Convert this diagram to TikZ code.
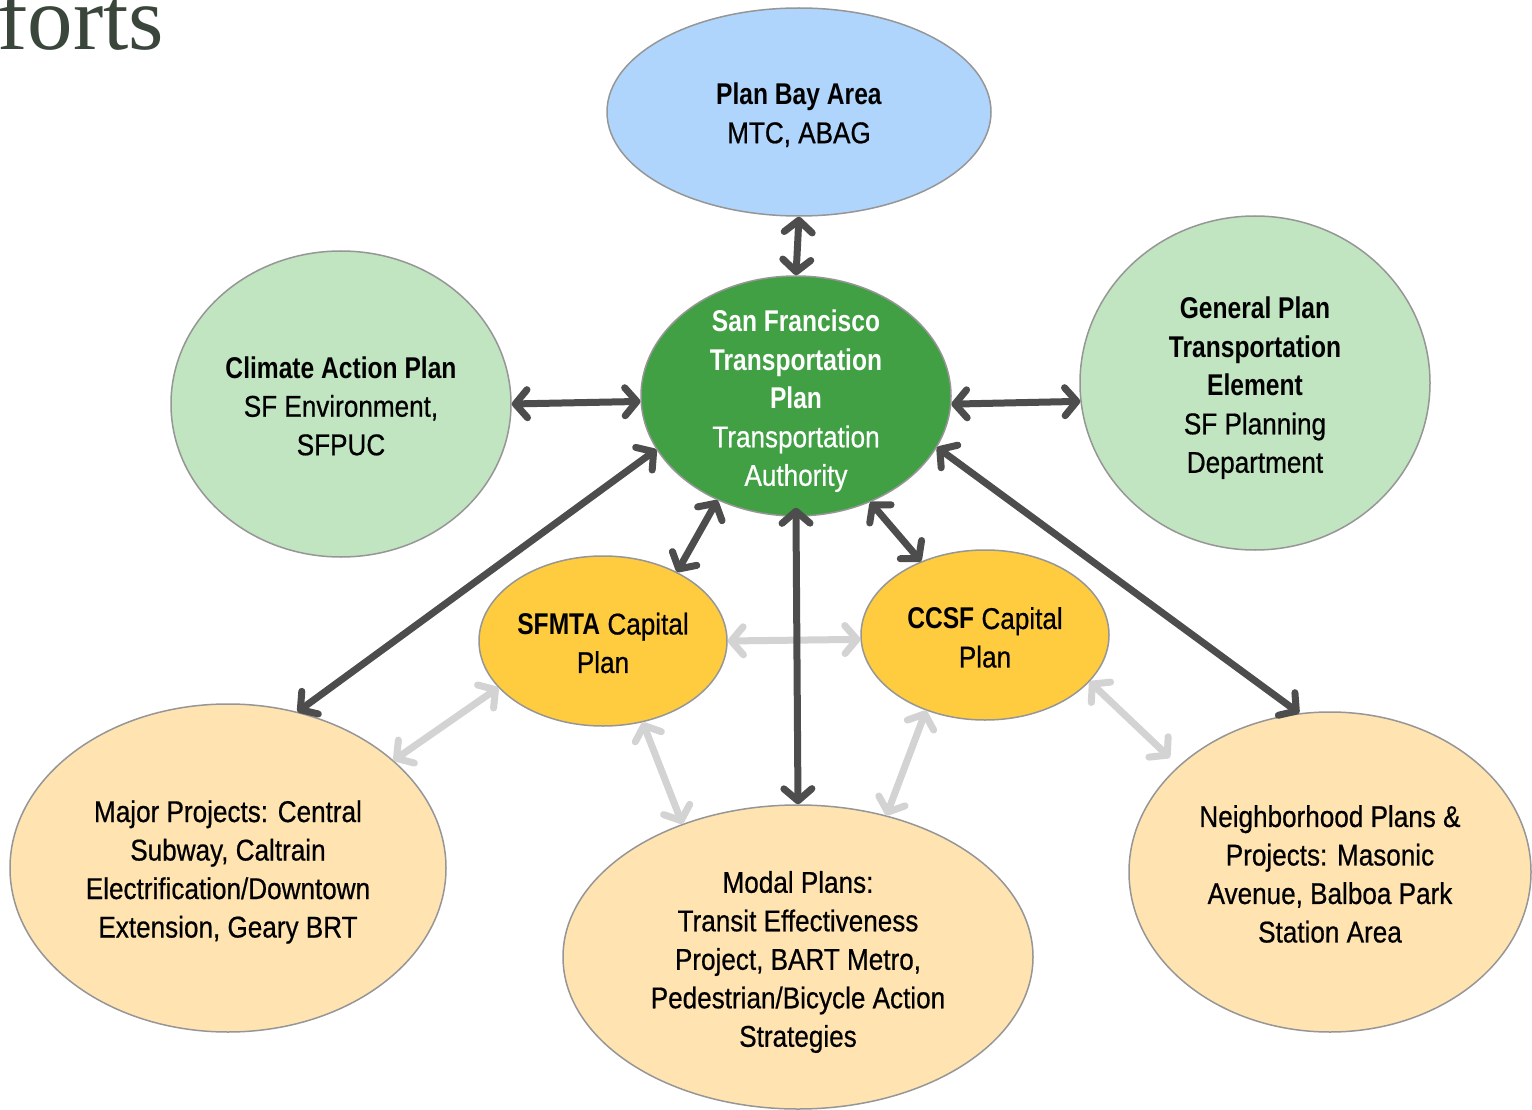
\documentclass[tikz,border=0pt]{standalone}
\usepackage{fontspec}
\setmainfont{Liberation Sans}[UprightFeatures={FakeStretch=0.87,FakeBold=0.6},BoldFeatures={FakeStretch=0.82}]
\newfontfamily\headserif{Liberation Serif}
\usetikzlibrary{shapes.geometric,arrows.meta}
\definecolor{bayblue}{RGB}{175,213,252}
\definecolor{hubgreen}{RGB}{64,160,67}
\definecolor{palegreen}{RGB}{193,228,193}
\definecolor{capyellow}{RGB}{255,204,64}
\definecolor{peach}{RGB}{255,228,178}
\definecolor{edgegray}{RGB}{150,150,150}
\definecolor{darkarrow}{RGB}{77,77,77}
\definecolor{lightarrow}{RGB}{211,211,211}
\definecolor{headcol}{RGB}{58,70,60}
\begin{document}
\begin{tikzpicture}[x=1pt,y=-1pt,
  bub/.style={ellipse, draw=edgegray, line width=1.5pt, inner sep=0pt},
  txt/.style={inner sep=0pt, align=center, font=\fontsize{30}{38.5}\selectfont},
  darr/.style={draw=darkarrow, line width=7pt,
    {Straight Barb[length=12pt,width=28pt,round]}-{Straight Barb[length=12pt,width=28pt,round]}},
  larr/.style={draw=lightarrow, line width=7pt,
    {Straight Barb[length=12pt,width=28pt,round]}-{Straight Barb[length=12pt,width=28pt,round]}}]
\useasboundingbox (0,0) rectangle (1532,1110);
\fill[white] (0,0) rectangle (1532,1110);

\node[anchor=base west, inner sep=0pt, text=headcol, font=\headserif\fontsize{91}{91}\selectfont] (head) at (-3,50) {forts};

\node[bub, fill=bayblue, minimum width=384pt, minimum height=208pt] (pba) at (799,112) {};
\node[bub, fill=hubgreen, minimum width=310pt, minimum height=240pt] (sftp) at (796,396) {};
\node[bub, fill=palegreen, minimum width=340pt, minimum height=306pt] (cap) at (341,404) {};
\node[bub, fill=palegreen, minimum width=350pt, minimum height=334pt] (gp) at (1255,383) {};
\node[bub, fill=capyellow, minimum width=248pt, minimum height=170pt] (mta) at (603,641) {};
\node[bub, fill=capyellow, minimum width=248pt, minimum height=170pt] (ccsf) at (985,635) {};
\node[bub, fill=peach, minimum width=436pt, minimum height=328pt] (major) at (228,868) {};
\node[bub, fill=peach, minimum width=470pt, minimum height=304pt] (modal) at (798,957) {};
\node[bub, fill=peach, minimum width=402pt, minimum height=320pt] (nbr) at (1330,872) {};

\node[txt] (pbaT) at (799,115) {\textbf{Plan Bay Area}\\MTC, ABAG};
\node[txt, text=white] (sftpT) at (796,401)
  {\textbf{San Francisco}\\\textbf{Transportation}\\\textbf{Plan}\\Transportation\\Authority};
\node[txt] (capT) at (341,406) {\textbf{Climate Action Plan}\\SF Environment,\\SFPUC};
\node[txt] (gpT) at (1255,388)
  {\textbf{General Plan}\\\textbf{Transportation}\\\textbf{Element}\\SF Planning\\Department};
\node[txt] (mtaT) at (603,643) {\textbf{SFMTA} Capital\\Plan};
\node[txt] (ccsfT) at (985,637.5) {\textbf{CCSF} Capital\\Plan};
\node[txt] (majorT) at (228,872)
  {Major Projects: Central\\Subway, Caltrain\\Electrification/Downtown\\Extension, Geary BRT};
\node[txt] (modalT) at (798,962)
  {Modal Plans:\\Transit Effectiveness\\Project, BART Metro,\\Pedestrian/Bicycle Action\\Strategies};
\node[txt] (nbrT) at (1330,874)
  {Neighborhood Plans \&\\Projects: Masonic\\Avenue, Balboa Park\\Station Area};

\draw[larr] (mta.0) -- (ccsf.182.7);
\draw[larr] (major.33.4) -- (mta.204.4);
\draw[larr] (mta.-64.9) -- (modal.131);
\draw[larr] (ccsf.232.8) -- (modal.58.2);
\draw[larr, shorten >=12pt] (ccsf.-24.6) -- (nbr.145.3);

\draw[darr] (pba.-90) -- (sftp.90);
\draw[darr] (cap.0) -- (sftp.182);
\draw[darr] (sftp.-3) -- (gp.186);
\draw[darr] (sftp.201.5) -- (major.66.8);
\draw[darr] (sftp.233.6) -- (mta.43);
\draw[darr, shorten <=-9pt] (sftp.-90) -- (modal.90);
\draw[darr] (sftp.-55.8) -- (ccsf.131.7);
\draw[darr] (sftp.-20.9) -- (nbr.101.7);
\end{tikzpicture}
\end{document}
